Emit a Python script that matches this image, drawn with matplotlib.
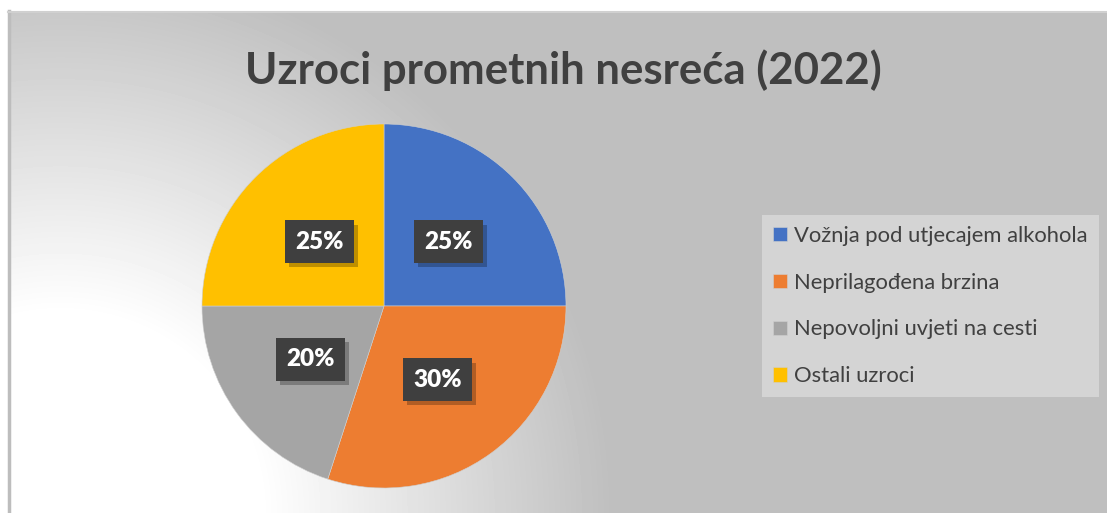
#!/usr/bin/env python3
import numpy as np
import matplotlib
matplotlib.use('Agg')
import matplotlib.pyplot as plt
import matplotlib.patheffects as pe

title = 'Uzroci prometnih nesreća (2022)'
categories = ['Vožnja pod utjecajem alkohola', 'Neprilagođena brzina',
              'Nepovoljni uvjeti na cesti', 'Ostali uzroci']
shares = [25, 30, 20, 25]
colors = ['#4472C4', '#ED7D31', '#A5A5A5', '#FFC000']

W, H = 1107, 513
text_col = '#404040'
plt.rcParams['font.family'] = ['Lato', 'DejaVu Sans']

fig = plt.figure(figsize=(W / 100, H / 100), dpi=100)
fig.patch.set_facecolor('white')

# background: chart area with radial gradient, light in lower left
bg = fig.add_axes([8 / W, 0, 1 - 8 / W, (H - 11) / H])
xx, yy = np.meshgrid(np.arange(8, W), np.arange(11, H))
d = np.hypot(xx - 60, yy - 513)
t = np.clip((d - 200) / 350, 0, 1)
val = 255 - t * (255 - 191)
bg.imshow(val, cmap='gray', vmin=0, vmax=255, aspect='auto',
          extent=[0, 1, 0, 1], origin='upper', interpolation='bilinear')
bg.set_xticks([])
bg.set_yticks([])
for s in bg.spines.values():
    s.set_visible(False)
bg.plot([0.0005, 0.0005], [0, 1], color='#bdbdbd', lw=2.5, transform=bg.transAxes, clip_on=False)
bg.plot([0, 1], [0.999, 0.999], color='#d0d0d0', lw=1.5, transform=bg.transAxes, clip_on=False)

fig.text(563 / W, 1 - 70 / H, title, ha='center', va='center',
         fontsize=31.5, fontweight='bold', color=text_col)

# pie
cx, cy, r = 384, 306, 182
ax = fig.add_axes([(cx - r) / W, (H - cy - r) / H, 2 * r / W, 2 * r / H])
ax.patch.set_alpha(0)
wedges, _, autotexts = ax.pie(shares, colors=colors, startangle=90, counterclock=False,
                              autopct='%1.0f%%', pctdistance=0.5, radius=1,
                              wedgeprops=dict(linewidth=0.4, edgecolor='#cfcfcf'))
ax.set_xlim(-1, 1)
ax.set_ylim(-1, 1)
for at in autotexts:
    at.set_color('white')
    at.set_fontweight('heavy')
    at.set_fontsize(17.5)
    at.set_bbox(dict(boxstyle='square,pad=0.42', facecolor='#3f3f3f', edgecolor='none'))
    at.get_bbox_patch().set_path_effects([
        pe.SimplePatchShadow(offset=(3, -3), shadow_rgbFace='black', alpha=0.25),
        pe.Normal()])

leg = fig.legend(wedges, categories, loc='center left',
                 bbox_to_anchor=(762 / W, 1 - 306 / H), fontsize=15.8,
                 frameon=True, fancybox=False, facecolor='#d4d4d4', edgecolor='none',
                 framealpha=1, handlelength=0.62, handleheight=0.62,
                 handletextpad=0.35, labelspacing=1.22, borderpad=0.5,
                 borderaxespad=0)
for txt in leg.get_texts():
    txt.set_color(text_col)

fig.savefig('out.png', dpi=100)
